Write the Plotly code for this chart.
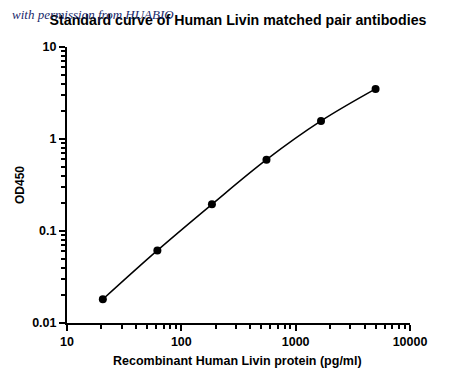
import plotly.graph_objects as go

concentration = [20.58, 61.73, 185.2, 555.6, 1666.7, 5000]
od450 = [0.0181, 0.0615, 0.195, 0.596, 1.57, 3.5]
x_ticks = [10, 100, 1000, 10000]
x_tick_labels = ["10", "100", "1000", "10000"]
y_ticks = [0.01, 0.1, 1, 10]
y_tick_labels = ["0.01", "0.1", "1", "10"]

# page has an 8px body margin; work in reference pixel coords minus OFF
OFF = 8
W, H = 434, 365
L, T = 67 - OFF, 47 - OFF
R = W - (410 - OFF)
B = H - (323 - OFF)
pw, ph = W - L - R, H - T - B


def px(xr):
    return (xr - OFF - L) / pw


def py(yr):
    return (T + ph - (yr - OFF)) / ph


fig = go.Figure()
fig.add_trace(go.Scatter(
    x=concentration, y=od450, mode="lines+markers",
    line=dict(color="black", width=1.5, shape="spline"),
    marker=dict(color="black", size=8),
    showlegend=False,
))

FAM = "Liberation Sans, Arial, sans-serif"
axis_font = dict(family=FAM, size=12.5, color="black", weight="bold")

fig.update_layout(
    width=W, height=H,
    margin=dict(l=L, r=R, t=T, b=B, autoexpand=False),
    paper_bgcolor="white", plot_bgcolor="white",
    title=dict(text="Standard curve of Human Livin matched pair antibodies",
               x=(238 - OFF) / W, xanchor="center", y=1 - (20 - OFF) / H, yanchor="middle",
               font=dict(family=FAM, size=14.2, color="black", weight="bold")),
    xaxis=dict(
        type="log", range=[1, 4], tickvals=x_ticks, ticktext=x_tick_labels,
        showline=True, linecolor="black", linewidth=2, automargin=False,
        ticks="outside", ticklen=6, tickwidth=2, tickcolor="black",
        showgrid=False, zeroline=False, tickfont=axis_font,
        minor=dict(dtick="D1", ticks="outside", ticklen=4, tickwidth=1.5, tickcolor="black", showgrid=False),
    ),
    yaxis=dict(
        type="log", range=[-2, 1], tickvals=y_ticks, ticktext=y_tick_labels,
        showline=True, linecolor="black", linewidth=2, automargin=False,
        ticks="outside", ticklen=6, tickwidth=2, tickcolor="black",
        showgrid=False, zeroline=False, tickfont=axis_font,
        minor=dict(dtick="D1", ticks="outside", ticklen=4, tickwidth=1.5, tickcolor="black", showgrid=False),
    ),
)

fig.add_annotation(
    text="Recombinant Human Livin protein (pg/ml)", xref="paper", yref="paper",
    x=px(237), y=py(361), xanchor="center", yanchor="middle",
    showarrow=False, font=dict(family=FAM, size=12.5, color="black", weight="bold"),
)
fig.add_annotation(
    text="OD450", xref="paper", yref="paper", textangle=-90,
    x=px(20), y=py(185), xanchor="center", yanchor="middle",
    showarrow=False, font=dict(family=FAM, size=12, color="black", weight="bold"),
)
fig.add_annotation(
    text="with permission from HUABIO", xref="paper", yref="paper",
    x=px(10), y=py(15), xanchor="left", yanchor="middle", showarrow=False,
    font=dict(family="Liberation Serif, DejaVu Serif, serif", size=13, color="#1a2a6c", style="italic"),
)

fig.write_html("out.html")
